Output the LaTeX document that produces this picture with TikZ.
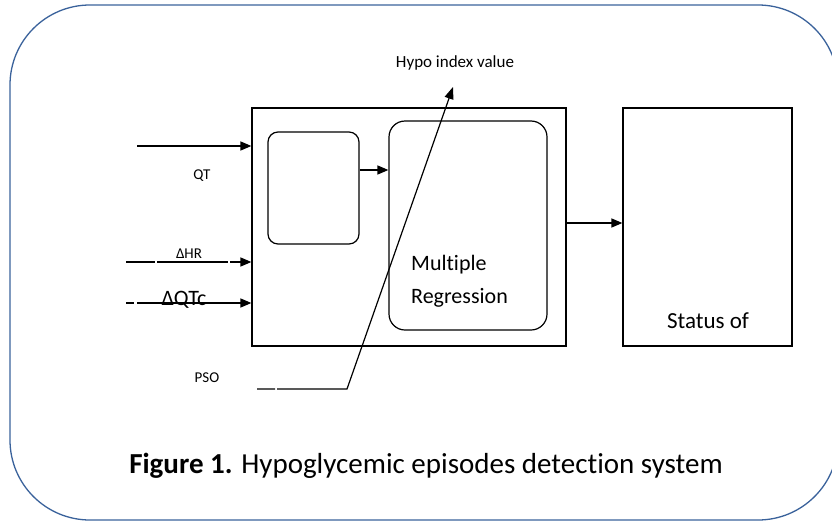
\documentclass[tikz,border=0pt]{standalone}
\usepackage{fontspec}
\setmainfont{Carlito}[Ligatures=NoCommon]
\usetikzlibrary{arrows.meta}
\definecolor{frameblue}{RGB}{58,98,155}
\tikzset{
  box/.style={draw, line width=1.2pt, minimum width=#1, inner sep=0pt},
  inarrow/.style={line width=1.5pt, -{Triangle[length=11pt,width=9pt]}},
}

\begin{document}
\begin{tikzpicture}[x=1pt,y=-1pt]

\clip (0,0) rectangle (832,522);
\draw[frameblue, line width=1.3pt, rounded corners=80pt] (10,5) rectangle (838,520);

\begin{scope}[box/.default=0pt]
\node[box=314pt, minimum height=238pt] (main) at (409,227) {};
\node[box=91pt, minimum height=112pt, rounded corners=10pt] (pre) at (313.5,188) {};
\node[box=158pt, minimum height=209pt, rounded corners=16pt] (mreg) at (468,225.5) {};
\node[box=169pt, minimum height=238pt] (status) at (707.5,227) {};
\end{scope}

\node[anchor=west, align=left, inner sep=0pt, font=\fontsize{22}{33}\selectfont] (mregtxt) at (411,281) {Multiple\\Regression};
\node[anchor=base, font=\fontsize{23}{26}\selectfont] (stattxt) at (708,328) {Status of};

% inputs
\coordinate (qtin) at (137,146);
\coordinate (hrin) at (126,262);
\coordinate (qtcin) at (126,303);
\coordinate (psoin) at (257,389);
\coordinate (psobend) at (347,389);
\coordinate (hypotip) at (453,87);

\node[font=\fontsize{15}{17}\selectfont] (qtlbl) at (202,176) {QT};
\node[font=\fontsize{15}{17}\selectfont, anchor=base] (hrlbl) at (189,258) {ΔHR};
\node[font=\fontsize{22}{24}\selectfont, anchor=base] (qtclbl) at (184,305) {ΔQTc};
\node[font=\fontsize{15}{17}\selectfont] (psolbl) at (207,378) {PSO};
\node[font=\fontsize{17}{19}\selectfont] (hypolbl) at (455,63) {Hypo index value};

\begin{scope}[inarrow]
\draw (qtin) -- (main.west |- qtin);
\draw[dash pattern=on 29pt off 2pt on 71pt off 2pt on 200pt] (hrin) -- (main.west |- hrin);
\draw[dash pattern=on 8pt off 3pt on 300pt] (qtcin) -- (main.west |- qtcin);
\draw ([yshift=18pt]pre.east) -- ([yshift=18pt]pre.east -| mreg.west);
\draw ([yshift=4pt]main.east) -- ([yshift=4pt]status.west);
\end{scope}

\draw[line width=1.2pt, dash pattern=on 18pt off 2pt on 600pt, -{Triangle[length=12pt,width=9pt]}]
  (psoin) -- (psobend) -- (hypotip);

\node[anchor=base, font=\fontsize{29}{32}\selectfont] (caption) at (426,473) {\textbf{Figure 1.} Hypoglycemic episodes detection system};

\end{tikzpicture}
\end{document}
